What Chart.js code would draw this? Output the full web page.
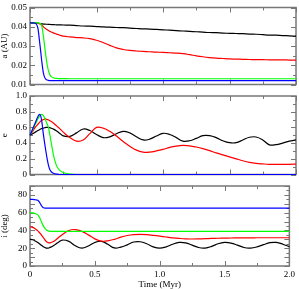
<!DOCTYPE html>
<html>
<head>
<meta charset="utf-8">
<script src="https://cdn.jsdelivr.net/npm/chart.js@4/dist/chart.umd.min.js"></script>
<style>
  html, body { margin: 0; padding: 0; background: #fff; }
  #wrap { position: relative; width: 299px; height: 289px; overflow: hidden; }
  canvas { position: absolute; left: 0; }
</style>
</head>
<body>
<div id="wrap">
  <canvas id="aChart" width="299" height="92" style="top:0"></canvas>
  <canvas id="eChart" width="299" height="94" style="top:88px"></canvas>
  <canvas id="iChart" width="299" height="111" style="top:178px"></canvas>
</div>
<script>
// ----- Data -----
const time = [0, 0.02, 0.04, 0.06, 0.07, 0.08, 0.09, 0.10, 0.11, 0.12, 0.13, 0.14, 0.15, 0.16, 0.18, 0.20, 0.22, 0.25,
  0.30, 0.35, 0.40, 0.45, 0.50, 0.55, 0.60, 0.65, 0.70, 0.75, 0.80, 0.85, 0.90, 0.95, 1.00, 1.05, 1.10, 1.15, 1.20,
  1.25, 1.30, 1.35, 1.40, 1.45, 1.50, 1.55, 1.60, 1.65, 1.70, 1.75, 1.80, 1.85, 1.90, 1.95, 2.00];

// semi-major axis (AU)
const aBlack = [.0420,.0420,.0419,.0418,.0417,.0416,.0415,.0414,.0414,.0413,.0413,.0412,.0412,.0411,.0411,.0410,.0410,.0409,
  .0408,.0406,.0404,.0403,.0401,.0399,.0398,.0396,.0395,.0393,.0391,.0389,.0388,.0386,.0384,.0382,.0380,.0378,.0376,
  .0374,.0372,.0370,.0369,.0367,.0366,.0365,.0364,.0362,.0361,.0359,.0357,.0356,.0354,.0353,.0351];
const aRed = [.0420,.0420,.0419,.0418,.0416,.0413,.0408,.0401,.0394,.0389,.0384,.0380,.0376,.0373,.0367,.0362,.0357,.0351,
  .0347,.0344,.0342,.0338,.0330,.0318,.0303,.0290,.0282,.0277,.0274,.0272,.0270,.0268,.0267,.0265,.0263,.0260,.0255,
  .0249,.0244,.0240,.0237,.0235,.0233,.0232,.0231,.0230,.0229,.0229,.0228,.0228,.0228,.0227,.0227];
const aGreen = [.0420,.0420,.0420,.0420,.0419,.0415,.0400,.0355,.0300,.0245,.0200,.0168,.0150,.0141,.0134,.0132,.0131,.0131,
  .0130,.0130,.0130,.0130,.0130,.0130,.0130,.0130,.0130,.0130,.0130,.0130,.0130,.0130,.0130,.0130,.0130,.0130,.0130,
  .0130,.0130,.0130,.0130,.0130,.0130,.0130,.0130,.0130,.0130,.0130,.0130,.0130,.0130,.0130,.0130];
const aBlue = [.0420,.0420,.0418,.0390,.0335,.0275,.0212,.0162,.0137,.0127,.0123,.0121,.0120,.0120,.0120,.0120,.0120,.0120,
  .0120,.0120,.0120,.0120,.0120,.0120,.0120,.0120,.0120,.0120,.0120,.0120,.0120,.0120,.0120,.0120,.0120,.0120,.0120,
  .0120,.0120,.0120,.0120,.0120,.0120,.0120,.0120,.0120,.0120,.0120,.0120,.0120,.0120,.0120,.0120];

// eccentricity
const eBlack = [.50,.52,.54,.56,.57,.58,.585,.59,.595,.60,.60,.60,.595,.59,.575,.555,.53,.492,
  .486,.53,.58,.56,.51,.47,.48,.52,.55,.53,.48,.44,.45,.49,.525,.51,.47,.425,.43,
  .46,.495,.495,.47,.43,.405,.405,.44,.475,.478,.44,.378,.38,.40,.425,.44];
const eRed = [.50,.55,.60,.64,.66,.68,.69,.70,.705,.705,.70,.695,.685,.675,.65,.62,.59,.54,
  .47,.425,.44,.52,.60,.59,.55,.49,.42,.36,.31,.285,.285,.30,.32,.345,.362,.37,.365,
  .35,.33,.305,.275,.25,.225,.20,.175,.155,.142,.135,.13,.13,.13,.13,.132];
const eGreen = [.50,.57,.64,.71,.74,.76,.765,.75,.72,.68,.64,.59,.50,.40,.22,.11,.06,.025,
  .005,0,0,0,0,0,0,0,0,0,0,0,0,0,0,0,0,0,0,
  0,0,0,0,0,0,0,0,0,0,0,0,0,0,0,0];
const eBlue = [.50,.58,.66,.74,.765,.75,.66,.52,.40,.29,.19,.11,.06,.035,.012,.004,0,0,
  0,0,0,0,0,0,0,0,0,0,0,0,0,0,0,0,0,0,0,
  0,0,0,0,0,0,0,0,0,0,0,0,0,0,0,0];

// inclination (deg)
const iBlack = [30,29.5,28.2,26.5,25.3,24.2,23,22,21,20.4,20.1,20.2,20.6,21.2,22.8,24.8,26.8,29.2,
  27.7,22.7,20,22.5,26.5,27.8,24.5,20.3,21.2,23.8,27,27.3,25,21.5,20,21.5,24.5,26.5,26,
  23.5,20.8,20.2,22,25,26.5,25.8,23.5,20.8,20.2,21.5,24,26.2,26.5,24.5,21.7];
const iRed = [44,43.5,42,39.5,38,36.5,34.5,32.5,30.5,28.5,27,26.3,26,26.3,27.5,29.5,32,35.5,
  40,41,39,35,30.5,28,28.3,30,32.5,34.3,35.3,35.6,35.3,34.5,33.6,32.6,31.7,31,30.5,
  30.4,30.5,30.7,31,31.2,31.4,31.5,31.6,31.7,31.7,31.8,31.8,31.8,31.8,31.8,31.8];
const iGreen = [60,59.8,59,57.5,55.5,52.5,49,46,43.5,41.5,40.2,39.5,39.2,39,39,39,39,39,
  39,39,39,39,39,39,39,39,39,39,39,39,39,39,39,39,39,39,39,
  39,39,39,39,39,39,39,39,39,39,39,39,39,39,39,39];
const iBlue = [75,75,74.5,74,72.5,70,67.5,65.8,65.3,65,65,65,65,65,65,65,65,65,
  65,65,65,65,65,65,65,65,65,65,65,65,65,65,65,65,65,65,65,
  65,65,65,65,65,65,65,65,65,65,65,65,65,65,65,65];

const xTicks = { min: 0, max: 2, major: 0.5, minor: 0.25 };

// ----- Defaults -----
Chart.defaults.font.family = "'Liberation Serif', 'Times New Roman', serif";
Chart.defaults.font.size = 9;
Chart.defaults.font.lineHeight = 1;
Chart.defaults.color = '#000';

// ----- Frame with inward ticks on all four sides -----
const frameTicks = {
  id: 'frameTicks',
  beforeDatasetsDraw(chart, args, o) {
    const { ctx, chartArea: a } = chart;
    const sx = chart.scales.x, sy = chart.scales.y;
    const isMajor = (v, step) => Math.abs(v / step - Math.round(v / step)) < 1e-6;
    ctx.save();
    ctx.strokeStyle = '#777';
    ctx.lineWidth = 1;
    ctx.beginPath();
    for (let k = 0; xTicks.min + k * xTicks.minor <= xTicks.max + 1e-9; k++) {
      const v = xTicks.min + k * xTicks.minor;
      const len = isMajor(v, xTicks.major) ? 5 : 3;
      const px = Math.round(sx.getPixelForValue(v)) + 0.5;
      ctx.moveTo(px, a.top); ctx.lineTo(px, a.top + len);
      ctx.moveTo(px, a.bottom); ctx.lineTo(px, a.bottom - len);
    }
    for (let k = 0; o.min + k * o.minor <= o.max + 1e-9; k++) {
      const v = o.min + k * o.minor;
      const len = isMajor(v - o.min, o.major) ? 5 : 3;
      const py = Math.round(sy.getPixelForValue(v)) + 0.5;
      ctx.moveTo(a.left, py); ctx.lineTo(a.left + len, py);
      ctx.moveTo(a.right, py); ctx.lineTo(a.right - len, py);
    }
    ctx.stroke();
    ctx.lineWidth = 1.5;
    ctx.strokeRect(a.left, a.top, a.right - a.left, a.bottom - a.top);
    ctx.restore();
  }
};

// black and red oscillate smoothly; green and blue have sharp drops
function line(data, color, smooth) {
  return {
    data: data,
    borderColor: color,
    borderWidth: 1.2,
    pointRadius: 0,
    fill: false,
    tension: 0.4,
    cubicInterpolationMode: smooth ? 'default' : 'monotone',
    clip: 3
  };
}

function makePanel(id, series, y, padding, showX) {
  return new Chart(document.getElementById(id), {
    type: 'line',
    data: {
      labels: time,
      datasets: [
        line(series[3], '#0000ff', false),
        line(series[2], '#00ff00', false),
        line(series[1], '#ff0000', true),
        line(series[0], '#000000', true)
      ]
    },
    options: {
      responsive: false,
      animation: false,
      events: [],
      layout: { padding: padding },
      plugins: {
        legend: { display: false },
        tooltip: { enabled: false },
        frameTicks: y
      },
      scales: {
        x: {
          type: 'linear',
          min: xTicks.min, max: xTicks.max,
          display: showX,
          grid: { display: false, drawTicks: false },
          border: { display: false },
          ticks: { stepSize: xTicks.major, padding: 4, maxRotation: 0 },
          title: { display: showX, text: 'Time (Myr)', padding: { top: 0, bottom: 0 } },
          afterFit: s => { s.height = showX ? 23 : 0; }
        },
        y: {
          min: y.min, max: y.max,
          grid: { display: false, drawTicks: false },
          border: { display: false },
          ticks: { stepSize: y.major, padding: 3 },
          title: { display: true, text: y.title, padding: { top: 0, bottom: 0 } },
          afterFit: s => { s.width = 30; }
        }
      }
    },
    plugins: [frameTicks]
  });
}

makePanel('aChart', [aBlack, aRed, aGreen, aBlue],
  { min: 0.01, max: 0.05, major: 0.01, minor: 0.005, title: 'a (AU)' },
  { top: 5, bottom: 7, left: 0, right: 3 }, false);
makePanel('eChart', [eBlack, eRed, eGreen, eBlue],
  { min: 0, max: 1, major: 0.2, minor: 0.1, title: 'e' },
  { top: 8, bottom: 6, left: 0, right: 3 }, false);
makePanel('iChart', [iBlack, iRed, iGreen, iBlue],
  { min: 0, max: 90, major: 10, minor: 5, title: 'i (deg)' },
  { top: 8, bottom: 0, left: 0, right: 3 }, true);
</script>
</body>
</html>
